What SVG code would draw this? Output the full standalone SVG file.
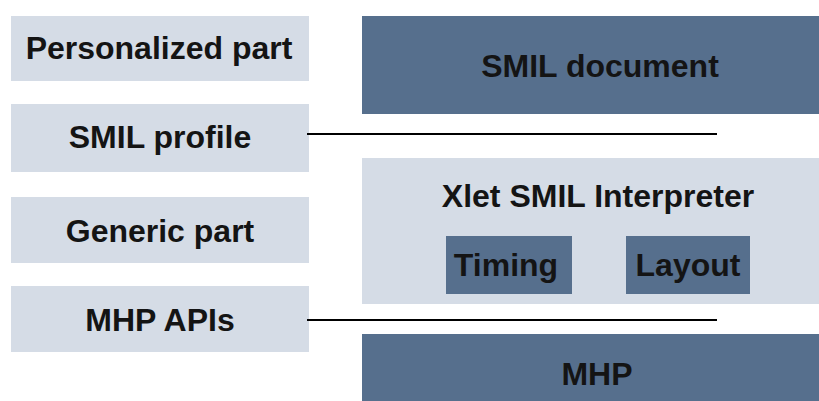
<svg xmlns="http://www.w3.org/2000/svg" width="819" height="401" viewBox="0 0 819 401">
  <style>
    .light { fill: #d5dce6; }
    .dark { fill: #566f8d; }
    .label { font-family: "Liberation Sans", Arial, sans-serif; font-weight: bold; font-size: 32px; fill: #141414; text-anchor: middle; }
    .link { stroke: #000; stroke-width: 2; fill: none; }
  </style>
  <rect width="819" height="401" fill="#ffffff"/>

  <!-- left column: software stack parts -->
  <g id="personalized-part">
    <rect class="light" x="11" y="16" width="298" height="65"/>
    <text class="label" x="159" y="59">Personalized part</text>
  </g>
  <g id="smil-profile">
    <rect class="light" x="11" y="104" width="298" height="68"/>
    <text class="label" x="160" y="148">SMIL profile</text>
  </g>
  <g id="generic-part">
    <rect class="light" x="11" y="197" width="298" height="66"/>
    <text class="label" x="160" y="242">Generic part</text>
  </g>
  <g id="mhp-apis">
    <rect class="light" x="11" y="286" width="298" height="66"/>
    <text class="label" x="160" y="331">MHP APIs</text>
  </g>

  <!-- right column: layered architecture -->
  <g id="smil-document">
    <rect class="dark" x="362" y="16" width="470" height="98"/>
    <text class="label" x="600" y="77">SMIL document</text>
  </g>
  <g id="xlet-interpreter">
    <rect class="light" x="362" y="158" width="470" height="146"/>
    <text class="label" x="598" y="207">Xlet SMIL Interpreter</text>
  </g>
  <g id="timing">
    <rect class="dark" x="446" y="236" width="126" height="58"/>
    <text class="label" x="506" y="276">Timing</text>
  </g>
  <g id="layout">
    <rect class="dark" x="626" y="236" width="124" height="58"/>
    <text class="label" x="688" y="276">Layout</text>
  </g>
  <g id="mhp">
    <rect class="dark" x="362" y="334" width="470" height="80"/>
    <text class="label" x="597" y="385">MHP</text>
  </g>

  <!-- separators between the layers -->
  <g id="connectors">
    <line class="link" x1="307" y1="134" x2="717" y2="134"/>
    <line class="link" x1="307" y1="320" x2="717" y2="320"/>
  </g>
</svg>
